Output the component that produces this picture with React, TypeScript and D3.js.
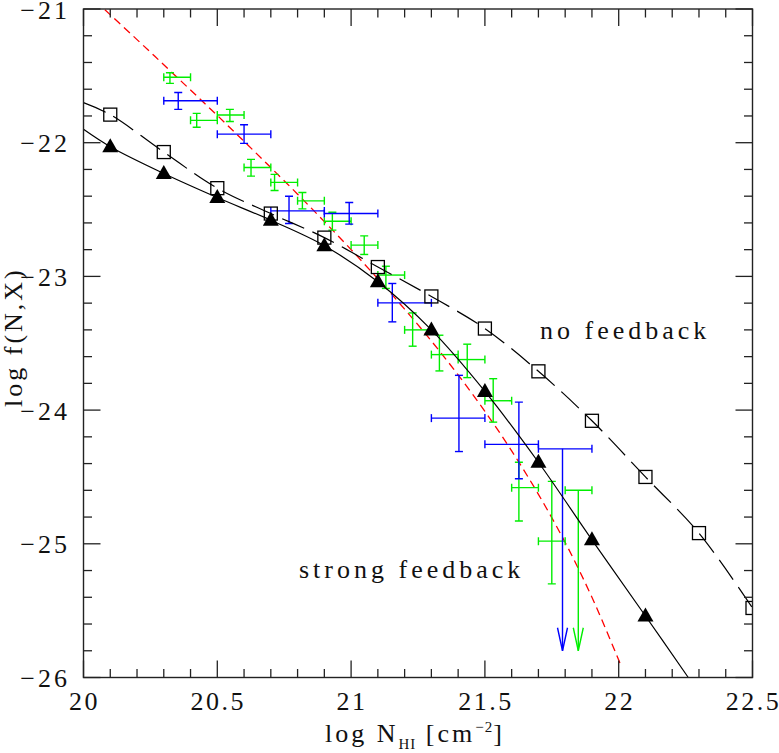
import React from "react";
import * as d3 from "d3";

// ---- data ----
const noFbX = [20.0, 20.1, 20.3, 20.5, 20.7, 20.9, 21.1, 21.3, 21.5, 21.7, 21.9, 22.1, 22.3, 22.5];
const noFbY = [-21.70, -21.79, -22.07, -22.34, -22.53, -22.71, -22.93, -23.15, -23.39, -23.71, -24.08, -24.50, -24.92, -25.48];
const noFbMarkers = [false, true, true, true, true, true, true, true, true, true, true, true, true, true];

const strongX = [20.0, 20.1, 20.3, 20.5, 20.7, 20.9, 21.1, 21.3, 21.5, 21.7, 21.9, 22.1, 22.26];
const strongY = [-21.90, -22.03, -22.23, -22.41, -22.58, -22.77, -23.04, -23.40, -23.86, -24.39, -24.97, -25.54, -26.0];
const strongMarkers = [false, true, true, true, true, true, true, true, true, true, true, true, false];

const fitX = [20.08, 20.2, 20.3, 20.4, 20.5, 20.6, 20.7, 20.8, 20.9, 21.0, 21.1, 21.2, 21.3, 21.4, 21.5, 21.6, 21.7, 21.8, 21.9, 22.0, 22.01];
const fitY = [-21.006, -21.229, -21.417, -21.606, -21.796, -21.99, -22.186, -22.385, -22.59, -22.80, -23.018, -23.245, -23.483, -23.737, -24.009, -24.305, -24.63, -24.99, -25.40, -25.87, -25.92];

const greenX = [20.323, 20.423, 20.547, 20.626, 20.714, 20.818, 20.93, 21.049, 21.13, 21.23, 21.33, 21.434, 21.531, 21.627, 21.75];
const greenXlo = [20.30, 20.40, 20.50, 20.60, 20.70, 20.80, 20.90, 21.00, 21.10, 21.20, 21.30, 21.40, 21.50, 21.60, 21.70];
const greenXhi = [20.40, 20.50, 20.60, 20.70, 20.80, 20.90, 21.00, 21.10, 21.20, 21.30, 21.40, 21.50, 21.60, 21.70, 21.80];
const greenY = [-21.511, -21.833, -21.793, -22.185, -22.297, -22.435, -22.587, -22.766, -22.99, -23.40, -23.585, -23.622, -23.93, -24.58, -24.98];
const greenYlo = [-21.556, -21.885, -21.841, -22.25, -22.357, -22.495, -22.654, -22.836, -23.09, -23.522, -23.707, -23.757, -24.09, -24.83, -25.30];
const greenYhi = [-21.477, -21.781, -21.751, -22.125, -22.237, -22.372, -22.52, -22.697, -22.924, -23.273, -23.44, -23.507, -23.765, -24.39, -24.533];

const blueX = [20.354, 20.60, 20.768, 20.993, 21.154, 21.403, 21.627];
const blueXlo = [20.30, 20.50, 20.70, 20.90, 21.10, 21.30, 21.50];
const blueXhi = [20.50, 20.70, 20.90, 21.10, 21.30, 21.50, 21.70];
const blueY = [-21.686, -21.936, -22.51, -22.53, -23.198, -24.06, -24.256];
const blueYlo = [-21.751, -22.005, -22.604, -22.609, -23.34, -24.31, -24.513];
const blueYhi = [-21.624, -21.866, -22.40, -22.447, -23.053, -23.74, -23.94];

const limX = [21.79, 21.849];
const limXlo = [21.70, 21.80];
const limXhi = [21.90, 21.90];
const limY = [-24.29, -24.60];
const limTo = [-25.80, -25.80];
const limColor = ["#0000ff", "#00ee00"];

const xTickVals = [20, 20.5, 21, 21.5, 22, 22.5];
const xTickLabels = ["20", "20.5", "21", "21.5", "22", "22.5"];
const yTickVals = [-21, -22, -23, -24, -25, -26];
const yTickLabels = ["\u221221", "\u221222", "\u221223", "\u221224", "\u221225", "\u221226"];

// ---- layout ----
const W = 779, H = 753;
const L = 83.5, R = 752.5, T = 9, B = 677.5;
const FONT = "'Liberation Serif', serif";
const txt: React.CSSProperties = { fontFamily: FONT, fontSize: 26, fill: "#111" };

export default function App() {
  const x = d3.scaleLinear().domain([20, 22.5]).range([L, R]);
  const y = d3.scaleLinear().domain([-21, -26]).range([T, B]);

  const lineGen = d3
    .line<[number, number]>()
    .x((d) => x(d[0]))
    .y((d) => y(d[1]))
    .curve(d3.curveCatmullRom.alpha(0.5));

  const noFbPath = lineGen(noFbX.map((v, i) => [v, noFbY[i]]));
  const strongPath = lineGen(strongX.map((v, i) => [v, strongY[i]]));
  const fitPath = lineGen(fitX.map((v, i) => [v, fitY[i]]));

  const minorX = d3.range(0, 26).map((i) => 20 + i * 0.1);
  const minorY = d3.range(0, 26).map((i) => -21 - i * 0.2);

  const cap = 4;
  const errBar = (
    key: string,
    cx: number, cy: number, xlo: number, xhi: number, ylo: number, yhi: number, color: string
  ) => {
    const px = x(cx), py = y(cy), x0 = x(xlo), x1 = x(xhi), y0 = y(ylo), y1 = y(yhi);
    return (
      <g key={key} stroke={color} strokeWidth={1.4} fill="none">
        <line x1={x0} x2={x1} y1={py} y2={py} />
        <line x1={px} x2={px} y1={y0} y2={y1} />
        <line x1={x0} x2={x0} y1={py - cap} y2={py + cap} />
        <line x1={x1} x2={x1} y1={py - cap} y2={py + cap} />
        <line x1={px - cap} x2={px + cap} y1={y0} y2={y0} />
        <line x1={px - cap} x2={px + cap} y1={y1} y2={y1} />
      </g>
    );
  };

  return (
    <svg width={W} height={H} style={{ position: "absolute", left: 0, top: 0, background: "#fff" }}>
      <defs>
        <clipPath id="plotclip">
          <rect x={L} y={T} width={R - L} height={B - T} />
        </clipPath>
      </defs>

      <g clipPath="url(#plotclip)">
        <path d={fitPath || ""} fill="none" stroke="#ff0000" strokeWidth={1.3} strokeDasharray="8,5" />
        {greenX.map((v, i) =>
          errBar("g" + i, v, greenY[i], greenXlo[i], greenXhi[i], greenYlo[i], greenYhi[i], "#00ee00")
        )}
        {blueX.map((v, i) =>
          errBar("b" + i, v, blueY[i], blueXlo[i], blueXhi[i], blueYlo[i], blueYhi[i], "#0000ff")
        )}
        {limX.map((v, i) => {
          const px = x(v), py = y(limY[i]), pe = y(limTo[i]);
          return (
            <g key={"l" + i} stroke={limColor[i]} strokeWidth={1.4} fill="none">
              <line x1={x(limXlo[i])} x2={x(limXhi[i])} y1={py} y2={py} />
              <line x1={x(limXlo[i])} x2={x(limXlo[i])} y1={py - cap} y2={py + cap} />
              <line x1={x(limXhi[i])} x2={x(limXhi[i])} y1={py - cap} y2={py + cap} />
              <line x1={px} x2={px} y1={py} y2={pe} />
              <polyline points={`${px - 5},${pe - 23} ${px},${pe} ${px + 5},${pe - 23}`} />
            </g>
          );
        })}
        <path d={noFbPath || ""} fill="none" stroke="#000" strokeWidth={1.2} strokeDasharray="24,9" />
        <path d={strongPath || ""} fill="none" stroke="#000" strokeWidth={1.2} />
        {noFbX.map((v, i) =>
          noFbMarkers[i] ? (
            <rect key={"s" + i} x={x(v) - 6.5} y={y(noFbY[i]) - 6.5} width={13} height={13}
              fill="none" stroke="#000" strokeWidth={1.3} />
          ) : null
        )}
        {strongX.map((v, i) => {
          if (!strongMarkers[i]) return null;
          const px = x(v), py = y(strongY[i]);
          return (
            <polygon key={"t" + i}
              points={`${px - 8},${py + 5.5} ${px + 8},${py + 5.5} ${px},${py - 8.5}`}
              fill="#000" />
          );
        })}
      </g>

      <rect x={L} y={T} width={R - L} height={B - T} fill="none" stroke="#222" strokeWidth={1.4} />

      <g stroke="#222" strokeWidth={1.3}>
        {minorX.map((v, i) => {
          const len = i % 5 === 0 ? 17 : 8.5;
          const px = x(v);
          return (
            <g key={"xt" + i}>
              <line x1={px} x2={px} y1={B} y2={B - len} />
              <line x1={px} x2={px} y1={T} y2={T + len} />
            </g>
          );
        })}
        {minorY.map((v, i) => {
          const len = i % 5 === 0 ? 17 : 8.5;
          const py = y(v);
          return (
            <g key={"yt" + i}>
              <line x1={L} x2={L + len} y1={py} y2={py} />
              <line x1={R} x2={R - len} y1={py} y2={py} />
            </g>
          );
        })}
      </g>

      {xTickVals.map((v, i) => (
        <text key={"xl" + i} x={x(v) + 1} y={710} textAnchor="middle" style={{ ...txt, letterSpacing: "2.5px" }}>
          {xTickLabels[i]}
        </text>
      ))}
      {yTickVals.map((v, i) => (
        <text key={"yl" + i} x={70} y={y(v) + 9.5} textAnchor="end" style={{ ...txt, letterSpacing: "3px" }}>
          {yTickLabels[i]}
        </text>
      ))}

      <text x={325} y={742} style={{ ...txt, letterSpacing: "3px" }}>
        log N<tspan dy={7} style={{ fontSize: 15, letterSpacing: "1px" }}>HI</tspan>
        <tspan dy={-7}> [cm</tspan>
        <tspan dy={-10} style={{ fontSize: 15, letterSpacing: "1px" }}>{"\u22122"}</tspan>
        <tspan dy={10}>]</tspan>
      </text>
      <text transform="translate(22,407) rotate(-90)" style={{ ...txt, letterSpacing: "3px" }}>
        log f(N,X)
      </text>

      <text x={540} y={339} style={{ ...txt, letterSpacing: "4px" }}>no feedback</text>
      <text x={299} y={578} style={{ ...txt, letterSpacing: "4px" }}>strong feedback</text>
    </svg>
  );
}
